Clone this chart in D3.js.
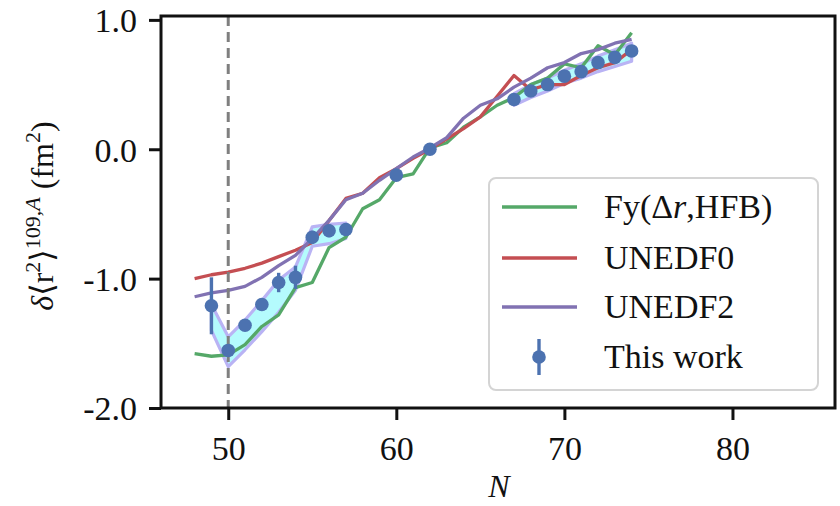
<!DOCTYPE html>
<html><head><meta charset="utf-8">
<script src="https://cdn.jsdelivr.net/npm/d3@7"></script>
<style>
html,body{margin:0;padding:0;background:#fff;}
svg{display:block;}
text{font-family:"Liberation Serif","DejaVu Serif",serif;fill:#111;}
</style></head>
<body>
<svg id="chart" width="840" height="506"></svg>
<script>
// ---- data ----
const theoryN = [48,49,50,51,52,53,54,55,56,57,58,59,60,61,62,63,64,65,66,67,68,69,70,71,72,73,74];
const fyHFB  = [-1.58,-1.60,-1.59,-1.51,-1.37,-1.28,-1.07,-1.03,-0.76,-0.68,-0.46,-0.39,-0.22,-0.19,0.01,0.05,0.17,0.25,0.34,0.40,0.50,0.55,0.66,0.63,0.80,0.73,0.90];
const unedf0 = [-1.00,-0.97,-0.95,-0.92,-0.88,-0.83,-0.78,-0.72,-0.55,-0.38,-0.34,-0.22,-0.15,-0.07,0.00,0.08,0.16,0.25,0.41,0.57,0.46,0.50,0.50,0.57,0.63,0.67,0.77];
const unedf2 = [-1.14,-1.11,-1.09,-1.06,-0.99,-0.90,-0.82,-0.69,-0.55,-0.39,-0.34,-0.24,-0.15,-0.06,0.01,0.09,0.24,0.34,0.39,0.48,0.55,0.63,0.67,0.74,0.77,0.82,0.85];

const expN   = [49,50,51,52,53,54,55,56,57,60,62,67,68,69,70,71,72,73,74];
const expV   = [-1.21,-1.555,-1.36,-1.20,-1.03,-0.99,-0.68,-0.63,-0.62,-0.20,0.00,0.385,0.45,0.50,0.565,0.60,0.67,0.71,0.76];
const expErr = [0.22,0.05,0.04,0.04,0.075,0.09,0.05,0.05,0.05,0.03,0.0,0.03,0.03,0.03,0.03,0.03,0.03,0.03,0.03];

const bandN1  = [49,50,51,52,53,54,55,56,57];
const bandHi1 = [-1.20,-1.45,-1.32,-1.17,-1.01,-0.91,-0.60,-0.58,-0.57];
const bandLo1 = [-1.40,-1.68,-1.55,-1.41,-1.26,-1.09,-0.75,-0.73,-0.69];
const bandN2  = [67,68,69,70,71,72,73,74];
const bandHi2 = [0.43,0.50,0.55,0.61,0.66,0.72,0.77,0.82];
const bandLo2 = [0.34,0.40,0.45,0.51,0.55,0.60,0.64,0.68];

const xTicks = [50,60,70,80];
const yTicks = [1.0,0.0,-1.0,-2.0];
const yTickLabels = ["1.0","0.0","-1.0","-2.0"];
const legendLabels = ["Fy(\u0394r,HFB)","UNEDF0","UNEDF2","This work"];
const shellN = 50;

// ---- layout ----
const svg = d3.select("#chart");
const L = 161, R = 835, T = 16, B = 408;
const x = d3.scaleLinear().domain([46, 86.1]).range([L, R]);
const y = d3.scaleLinear().domain([-2.0, 1.03]).range([B, T]);

const C = {green:"#55a868", red:"#c44e52", purple:"#8172b2", blue:"#4c72b0"};

svg.append("clipPath").attr("id","plotclip")
  .append("rect").attr("x",L).attr("y",T).attr("width",R-L).attr("height",B-T);
const g = svg.append("g").attr("clip-path","url(#plotclip)");

// band
function band(ns, lo, hi){
  const pts = ns.map((n,i)=>({n, lo:lo[i], hi:hi[i]}));
  const area = d3.area().x(d=>x(d.n)).y0(d=>y(d.lo)).y1(d=>y(d.hi));
  g.append("path").datum(pts).attr("d",area)
    .attr("fill","#b4fbfd").attr("stroke","#b9b3f4").attr("stroke-width",3.2)
    .attr("stroke-linejoin","round");
}
band(bandN1, bandLo1, bandHi1);
band(bandN2, bandLo2, bandHi2);

// lines
const line = d3.line().x(d=>x(d[0])).y(d=>y(d[1]));
[[fyHFB,C.green],[unedf0,C.red],[unedf2,C.purple]].forEach(([vals,col])=>{
  g.append("path").datum(theoryN.map((n,i)=>[n,vals[i]])).attr("d",line)
    .attr("fill","none").attr("stroke",col).attr("stroke-width",3.3)
    .attr("stroke-linejoin","round");
});

// dashed line at N=50
g.append("line").attr("x1",x(shellN)).attr("x2",x(shellN)).attr("y1",T).attr("y2",B)
  .attr("stroke","#7f7f7f").attr("stroke-width",3).attr("stroke-dasharray","10,6");

// error bars + points
expN.forEach((n,i)=>{
  if(expErr[i]>0){
    g.append("line").attr("x1",x(n)).attr("x2",x(n))
      .attr("y1",y(expV[i]-expErr[i])).attr("y2",y(expV[i]+expErr[i]))
      .attr("stroke",C.blue).attr("stroke-width",3.4);
  }
});
g.selectAll("circle.pt").data(expN).enter().append("circle").attr("class","pt")
  .attr("cx",d=>x(d)).attr("cy",(d,i)=>y(expV[i])).attr("r",6.8).attr("fill",C.blue);

// axes
const fs = 34;
const xAxis = svg.append("g").attr("transform",`translate(0,${B})`)
  .call(d3.axisBottom(x).tickValues(xTicks).tickSize(12).tickPadding(8).tickFormat(d3.format("d")));
const yAxis = svg.append("g").attr("transform",`translate(${L},0)`)
  .call(d3.axisLeft(y).tickValues(yTicks).tickSize(12).tickPadding(12)
  .tickFormat((d,i)=>yTickLabels[i]));
[xAxis,yAxis].forEach(a=>{
  a.select(".domain").remove();
  a.selectAll(".tick line").attr("stroke","#111").attr("stroke-width",3);
  a.selectAll(".tick text").attr("font-family","Liberation Serif, serif").attr("font-size",fs).attr("fill","#111");
});
xAxis.selectAll(".tick text").attr("dy","0.95em");
yAxis.selectAll(".tick text").attr("dy","0.35em");

// frame
svg.append("rect").attr("x",L).attr("y",T).attr("width",R-L).attr("height",B-T)
  .attr("fill","none").attr("stroke","#111").attr("stroke-width",3);

// legend
const lg = svg.append("g");
lg.append("rect").attr("x",489).attr("y",178).attr("width",329).attr("height",212).attr("rx",7)
  .attr("fill","#fff").attr("fill-opacity",0.85).attr("stroke","#d4d4d4").attr("stroke-width",2);
const rows = [207,258,307,357];
const lcols = [C.green,C.red,C.purple];
lcols.forEach((c,i)=>{
  lg.append("line").attr("x1",502).attr("x2",577).attr("y1",rows[i]).attr("y2",rows[i])
    .attr("stroke",c).attr("stroke-width",3.5);
});
lg.append("line").attr("x1",539).attr("x2",539).attr("y1",rows[3]-18).attr("y2",rows[3]+18)
  .attr("stroke",C.blue).attr("stroke-width",3.4);
lg.append("circle").attr("cx",539).attr("cy",rows[3]).attr("r",6.8).attr("fill",C.blue);
legendLabels.forEach((t,i)=>{
  const tx = lg.append("text").attr("x",604).attr("y",rows[i]+11).attr("font-size",fs);
  if(i===0){
    tx.append("tspan").text("Fy(\u0394");
    tx.append("tspan").attr("font-style","italic").text("r");
    tx.append("tspan").text(",HFB)");
  } else tx.text(t);
});

// y label
const yl = svg.append("text").attr("transform","translate(53,216) rotate(-90)")
  .attr("text-anchor","middle").attr("font-size",32);
yl.append("tspan").attr("font-style","italic").text("\u03b4");
yl.append("tspan").text("\u27e8r");
yl.append("tspan").attr("font-size",22).attr("dy",-13).text("2");
yl.append("tspan").attr("dy",13).text("\u27e9");
yl.append("tspan").attr("font-size",22).attr("dy",-13).text("109,");
yl.append("tspan").attr("font-size",22).attr("font-style","italic").text("A");
yl.append("tspan").attr("dy",13).text(" (fm");
yl.append("tspan").attr("font-size",22).attr("dy",-13).text("2");
yl.append("tspan").attr("dy",13).text(")");

// x label
svg.append("text").attr("x",499).attr("y",497).attr("text-anchor","middle")
  .attr("font-size",32).attr("font-style","italic").text("N");
</script>
</body></html>
